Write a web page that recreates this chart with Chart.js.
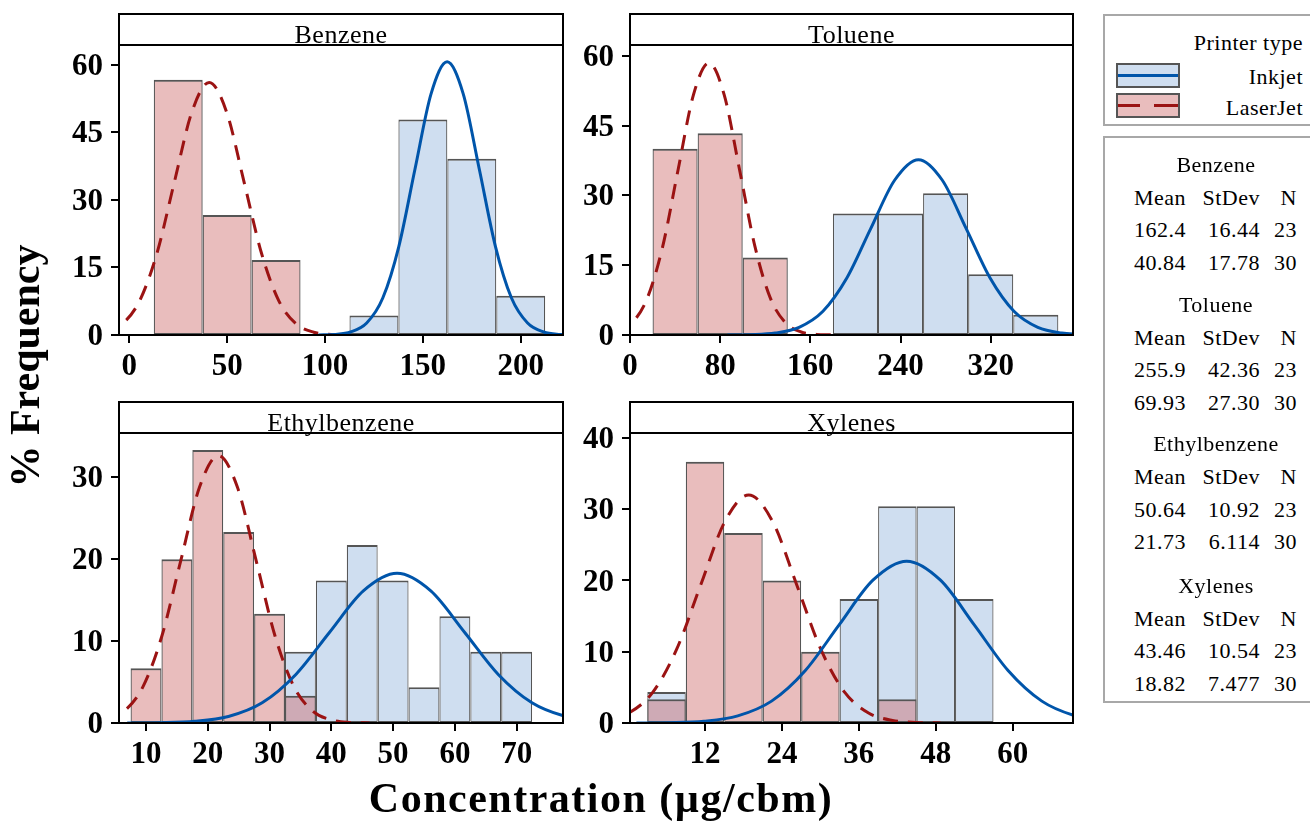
<!DOCTYPE html>
<html>
<head>
<meta charset="utf-8">
<script src="https://cdn.jsdelivr.net/npm/chart.js"></script>
<style>
html,body{margin:0;padding:0;background:#fff;}
body{width:1310px;height:824px;position:relative;overflow:hidden;font-family:"Liberation Serif","Times New Roman",serif;color:#000;}
canvas{position:absolute;}
.t{position:absolute;white-space:nowrap;color:#000;}
.box{position:absolute;border:2px solid #a8a8a8;box-sizing:border-box;}
</style>
</head>
<body>
<canvas id="cBenzene" width="600" height="390" style="left:0px;top:0px"></canvas>
<canvas id="cToluene" width="535" height="390" style="left:565px;top:0px"></canvas>
<canvas id="cEthyl" width="600" height="390" style="left:0px;top:390px"></canvas>
<canvas id="cXylenes" width="535" height="390" style="left:565px;top:390px"></canvas>
<div id="overlay"></div>
<script>
// ---------------- DATA ----------------
const panelTitles = ['Benzene', 'Toluene', 'Ethylbenzene', 'Xylenes'];
const seriesNames = ['Inkjet', 'LaserJet'];

// Histogram bin midpoints and % frequency
const benzeneLaserBins = [25, 50, 75];
const benzeneLaserPct = [56.67, 26.67, 16.67];
const benzeneInkjetBins = [125, 150, 175, 200];
const benzeneInkjetPct = [4.35, 47.83, 39.13, 8.70];

const tolueneLaserBins = [40, 80, 120];
const tolueneLaserPct = [40.00, 43.33, 16.67];
const tolueneInkjetBins = [200, 240, 280, 320, 360];
const tolueneInkjetPct = [26.09, 26.09, 30.43, 13.04, 4.35];

const ethylLaserBins = [10, 15, 20, 25, 30, 35];
const ethylLaserPct = [6.67, 20.00, 33.33, 23.33, 13.33, 3.33];
const ethylInkjetBins = [35, 40, 45, 50, 55, 60, 65, 70];
const ethylInkjetPct = [8.70, 17.39, 21.74, 17.39, 4.35, 13.04, 8.70, 8.70];

const xylenesLaserBins = [6, 12, 18, 24, 30, 42];
const xylenesLaserPct = [3.33, 36.67, 26.67, 20.00, 10.00, 3.33];
const xylenesInkjetBins = [6, 36, 42, 48, 54];
const xylenesInkjetPct = [4.35, 17.39, 30.43, 30.43, 17.39];

const benzeneInkjetCurveX = [96.64, 104.86, 113.08, 121.30, 129.52, 137.74, 145.96, 154.18, 162.40, 170.62, 178.84, 187.06, 195.28, 203.50, 211.72, 219.94, 228.16];
const benzeneInkjetCurveY = [0.02, 0.13, 0.67, 2.66, 8.21, 19.70, 36.80, 53.54, 60.67, 53.54, 36.80, 19.70, 8.21, 2.66, 0.67, 0.13, 0.02];
const benzeneLaserCurveX = [-30.28, -21.39, -12.50, -3.61, 5.28, 14.17, 23.06, 31.95, 40.84, 49.73, 58.62, 67.51, 76.40, 85.29, 94.18, 103.07, 111.96];
const benzeneLaserCurveY = [0.02, 0.12, 0.62, 2.46, 7.59, 18.21, 34.02, 49.50, 56.09, 49.50, 34.02, 18.21, 7.59, 2.46, 0.62, 0.12, 0.02];

const tolueneInkjetCurveX = [86.46, 107.64, 128.82, 150.00, 171.18, 192.36, 213.54, 234.72, 255.90, 277.08, 298.26, 319.44, 340.62, 361.80, 382.98, 404.16, 425.34];
const tolueneInkjetCurveY = [0.01, 0.08, 0.42, 1.65, 5.10, 12.23, 22.85, 33.24, 37.67, 33.24, 22.85, 12.23, 5.10, 1.65, 0.42, 0.08, 0.01];
const tolueneLaserCurveX = [-39.27, -25.62, -11.97, 1.68, 15.33, 28.98, 42.63, 56.28, 69.93, 83.58, 97.23, 110.88, 124.53, 138.18, 151.83, 165.48, 179.13];
const tolueneLaserCurveY = [0.02, 0.13, 0.65, 2.57, 7.91, 18.98, 35.45, 51.58, 58.45, 51.58, 35.45, 18.98, 7.91, 2.57, 0.65, 0.13, 0.02];

const ethylInkjetCurveX = [6.96, 12.42, 17.88, 23.34, 28.80, 34.26, 39.72, 45.18, 50.64, 56.10, 61.56, 67.02, 72.48, 77.94, 83.40, 88.86, 94.32];
const ethylInkjetCurveY = [0.01, 0.04, 0.20, 0.80, 2.47, 5.93, 11.08, 16.12, 18.27, 16.12, 11.08, 5.93, 2.47, 0.80, 0.20, 0.04, 0.01];
const ethylLaserCurveX = [-2.73, 0.33, 3.39, 6.45, 9.50, 12.56, 15.62, 18.67, 21.73, 24.79, 27.84, 30.90, 33.96, 37.02, 40.07, 43.13, 46.19];
const ethylLaserCurveY = [0.01, 0.07, 0.36, 1.43, 4.41, 10.59, 19.79, 28.80, 32.63, 28.80, 19.79, 10.59, 4.41, 1.43, 0.36, 0.07, 0.01];

const xylenesInkjetCurveX = [1.30, 6.57, 11.84, 17.11, 22.38, 27.65, 32.92, 38.19, 43.46, 48.73, 54.00, 59.27, 64.54, 69.81, 75.08, 80.35, 85.62];
const xylenesInkjetCurveY = [0.01, 0.05, 0.25, 1.00, 3.07, 7.37, 13.77, 20.04, 22.71, 20.04, 13.77, 7.37, 3.07, 1.00, 0.25, 0.05, 0.01];
const xylenesLaserCurveX = [-11.09, -7.35, -3.61, 0.13, 3.87, 7.60, 11.34, 15.08, 18.82, 22.56, 26.30, 30.04, 33.77, 37.51, 41.25, 44.99, 48.73];
const xylenesLaserCurveY = [0.01, 0.07, 0.36, 1.41, 4.33, 10.39, 19.41, 28.25, 32.01, 28.25, 19.41, 10.39, 4.33, 1.41, 0.36, 0.07, 0.01];

// Tick labels
const benzeneXTicks = [0, 50, 100, 150, 200];
const benzeneYTicks = [0, 15, 30, 45, 60];
const tolueneXTicks = [0, 80, 160, 240, 320];
const tolueneYTicks = [0, 15, 30, 45, 60];
const ethylXTicks = [10, 20, 30, 40, 50, 60, 70];
const ethylYTicks = [0, 10, 20, 30];
const xylenesXTicks = [12, 24, 36, 48, 60];
const xylenesYTicks = [0, 10, 20, 30, 40];

// Summary statistics table
const inkjetMean = ['162.4', '255.9', '50.64', '43.46'];
const inkjetStDev = ['16.44', '42.36', '10.92', '10.54'];
const inkjetN = ['23', '23', '23', '23'];
const laserMean = ['40.84', '69.93', '21.73', '18.82'];
const laserStDev = ['17.78', '27.30', '6.114', '7.477'];
const laserN = ['30', '30', '30', '30'];

// ---------------- STYLE ----------------
const BLUE_LINE = '#0055AA';
const RED_LINE = '#9B1313';
const BLUE_FILL = 'rgb(207,222,240)';
const PINK_FILL = 'rgba(205,105,105,0.44)';
const BAR_EDGE = '#555555';
const SERIF = '"Liberation Serif", "Times New Roman", serif';

function pts(xs, ys) { return xs.map((x, i) => ({ x: x, y: ys[i] })); }

const framePlugin = {
  id: 'frame',
  afterDatasetsDraw(chart, args, opts) {
    const { ctx, chartArea } = chart;
    const { left, right, top, bottom } = chartArea;
    ctx.save();
    ctx.strokeStyle = '#000';
    ctx.lineWidth = 2;
    ctx.strokeRect(left, top - opts.header, right - left, bottom - top + opts.header);
    ctx.beginPath();
    ctx.moveTo(left, top);
    ctx.lineTo(right, top);
    ctx.stroke();
    ctx.fillStyle = '#000';
    ctx.font = '26px ' + SERIF;
    try { ctx.letterSpacing = '0.5px'; } catch (e) {}
    ctx.textAlign = 'center';
    ctx.textBaseline = 'alphabetic';
    ctx.fillText(opts.title, (left + right) / 2, top - 2);
    ctx.restore();
  }
};

function makePanel(id, p) {
  const tickFont = { family: SERIF, size: 31, weight: 'bold' };
  const gridOpts = { display: true, drawOnChartArea: false, drawTicks: true, tickLength: 8, color: '#000', lineWidth: 2, offset: false };
  const barCommon = {
    type: 'bar', grouped: false, barPercentage: 1, categoryPercentage: 1,
    borderColor: BAR_EDGE, borderWidth: { top: 2, left: 1.2, right: 1.2, bottom: 1 },
    borderSkipped: false, inflateAmount: 0
  };
  new Chart(document.getElementById(id), {
    type: 'bar',
    data: {
      datasets: [
        { type: 'line', label: seriesNames[0] + ' fit', data: pts(p.inkCX, p.inkCY), borderColor: BLUE_LINE, borderWidth: 3,
          pointRadius: 0, fill: false, cubicInterpolationMode: 'monotone', order: 0 },
        { type: 'line', label: seriesNames[1] + ' fit', data: pts(p.lasCX, p.lasCY), borderColor: RED_LINE, borderWidth: 3,
          borderDash: [15, 10], pointRadius: 0, fill: false, cubicInterpolationMode: 'monotone', order: 0 },
        Object.assign({ label: seriesNames[1], data: pts(p.lasBins, p.lasPct), backgroundColor: PINK_FILL, order: 1 }, barCommon),
        Object.assign({ label: seriesNames[0], data: pts(p.inkBins, p.inkPct), backgroundColor: BLUE_FILL, order: 2 }, barCommon)
      ]
    },
    options: {
      responsive: false, animation: false, events: [],
      layout: { padding: { top: p.padTop, right: p.padRight, left: 0, bottom: 0 } },
      plugins: { legend: { display: false }, tooltip: { enabled: false }, frame: { title: p.title, header: 31 } },
      scales: {
        x: {
          type: 'linear', min: p.xMin, max: p.xMax, offset: false,
          afterBuildTicks: s => { s.ticks = p.xTicks.map(v => ({ value: v })); },
          afterFit: s => { s.height = p.xH; },
          grid: gridOpts, border: { display: false },
          ticks: { font: tickFont, color: '#000', padding: 5, maxRotation: 0, autoSkip: false, callback: v => String(v) }
        },
        y: {
          type: 'linear', min: 0, max: p.yMax,
          afterBuildTicks: s => { s.ticks = p.yTicks.map(v => ({ value: v })); },
          afterFit: s => { s.width = p.yW; },
          grid: gridOpts, border: { display: false },
          ticks: { font: tickFont, color: '#000', padding: 8, labelOffset: 2, autoSkip: false, callback: v => String(v) }
        }
      }
    },
    plugins: [framePlugin]
  });
}

makePanel('cBenzene', { title: panelTitles[0], xMin: -5.26, xMax: 221.6, yMax: 64.4, xTicks: benzeneXTicks, yTicks: benzeneYTicks,
  lasBins: benzeneLaserBins, lasPct: benzeneLaserPct, inkBins: benzeneInkjetBins, inkPct: benzeneInkjetPct,
  inkCX: benzeneInkjetCurveX, inkCY: benzeneInkjetCurveY, lasCX: benzeneLaserCurveX, lasCY: benzeneLaserCurveY,
  padTop: 45, padRight: 37, yW: 119, xH: 55 });
makePanel('cToluene', { title: panelTitles[1], xMin: 0, xMax: 393, yMax: 62.3, xTicks: tolueneXTicks, yTicks: tolueneYTicks,
  lasBins: tolueneLaserBins, lasPct: tolueneLaserPct, inkBins: tolueneInkjetBins, inkPct: tolueneInkjetPct,
  inkCX: tolueneInkjetCurveX, inkCY: tolueneInkjetCurveY, lasCX: tolueneLaserCurveX, lasCY: tolueneLaserCurveY,
  padTop: 45, padRight: 27, yW: 65, xH: 55 });
makePanel('cEthyl', { title: panelTitles[2], xMin: 5.63, xMax: 77.5, yMax: 35.4, xTicks: ethylXTicks, yTicks: ethylYTicks,
  lasBins: ethylLaserBins, lasPct: ethylLaserPct, inkBins: ethylInkjetBins, inkPct: ethylInkjetPct,
  inkCX: ethylInkjetCurveX, inkCY: ethylInkjetCurveY, lasCX: ethylLaserCurveX, lasCY: ethylLaserCurveY,
  padTop: 43, padRight: 37, yW: 119, xH: 57 });
makePanel('cXylenes', { title: panelTitles[3], xMin: 0.3, xMax: 69.4, yMax: 40.7, xTicks: xylenesXTicks, yTicks: xylenesYTicks,
  lasBins: xylenesLaserBins, lasPct: xylenesLaserPct, inkBins: xylenesInkjetBins, inkPct: xylenesInkjetPct,
  inkCX: xylenesInkjetCurveX, inkCY: xylenesInkjetCurveY, lasCX: xylenesLaserCurveX, lasCY: xylenesLaserCurveY,
  padTop: 43, padRight: 27, yW: 65, xH: 57 });

// ---------------- TEXT / LEGEND ----------------
const ov = document.getElementById('overlay');
function addDiv(html, style) {
  const d = document.createElement('div');
  d.className = 't';
  d.innerHTML = html;
  Object.assign(d.style, style);
  ov.appendChild(d);
  return d;
}
// text placed by baseline; line-height = size -> baseline at 0.8375*size
function textAt(txt, opts) {
  const size = opts.size;
  const st = {
    fontSize: size + 'px', lineHeight: size + 'px', height: size + 'px',
    top: (opts.baseline - 0.8375 * size) + 'px', fontWeight: opts.bold ? 'bold' : 'normal',
    letterSpacing: (opts.ls || 0) + 'px'
  };
  if (opts.right !== undefined) { st.right = (1310 - opts.right) + 'px'; st.textAlign = 'right'; }
  else if (opts.center !== undefined) { st.left = (opts.center - 300) + 'px'; st.width = '600px'; st.textAlign = 'center'; }
  else { st.left = opts.left + 'px'; }
  const d = addDiv('', st);
  d.textContent = txt;
  return d;
}

// axis titles
textAt('Concentration (\u00b5g/cbm)', { center: 601, baseline: 812, size: 42, bold: true, ls: 1.5 });
addDiv('% Frequency', {
  left: (25 - 200) + 'px', top: (366 - 21) + 'px', width: '400px', height: '42px', lineHeight: '42px',
  fontSize: '42px', fontWeight: 'bold', textAlign: 'center', transform: 'rotate(-90deg)'
});

// legend box
addDiv('', { left: '1103px', top: '14px', width: '230px', height: '112px' }).className = 'box';
textAt('Printer type', { right: 1303, baseline: 50, size: 22, ls: 0.5 });
textAt(seriesNames[0], { right: 1303, baseline: 84, size: 22, ls: 0.5 });
textAt(seriesNames[1], { right: 1303, baseline: 115, size: 22, ls: 0.5 });
// swatches
addDiv('', { left: '1116px', top: '63px', width: '64px', height: '25px', background: BLUE_FILL, border: '2px solid ' + BAR_EDGE, boxSizing: 'border-box' });
addDiv('', { left: '1118px', top: '74px', width: '60px', height: '3px', background: BLUE_LINE });
addDiv('', { left: '1116px', top: '93px', width: '64px', height: '25px', background: 'rgb(233,189,189)', border: '2px solid ' + BAR_EDGE, boxSizing: 'border-box' });
addDiv('', { left: '1118px', top: '104px', width: '60px', height: '3px',
  background: 'linear-gradient(to right, ' + RED_LINE + ' 0px, ' + RED_LINE + ' 22px, transparent 22px, transparent 36px, ' + RED_LINE + ' 36px, ' + RED_LINE + ' 60px)' });

// stats box
addDiv('', { left: '1103px', top: '136px', width: '230px', height: '567px' }).className = 'box';
const groupBaselines = [172.3, 312, 451.7, 593.3];
const colRights = [1186, 1260, 1297];
for (let g = 0; g < panelTitles.length; g++) {
  const b = groupBaselines[g];
  textAt(panelTitles[g], { center: 1216, baseline: b, size: 22, ls: 0.5 });
  const rows = [
    ['Mean', 'StDev', 'N'],
    [inkjetMean[g], inkjetStDev[g], inkjetN[g]],
    [laserMean[g], laserStDev[g], laserN[g]]
  ];
  const offs = [33, 65.5, 98];
  rows.forEach((r, ri) => {
    r.forEach((cell, ci) => {
      textAt(cell, { right: colRights[ci], baseline: b + offs[ri], size: 22, ls: 0.5 });
    });
  });
}
</script>
</body>
</html>
